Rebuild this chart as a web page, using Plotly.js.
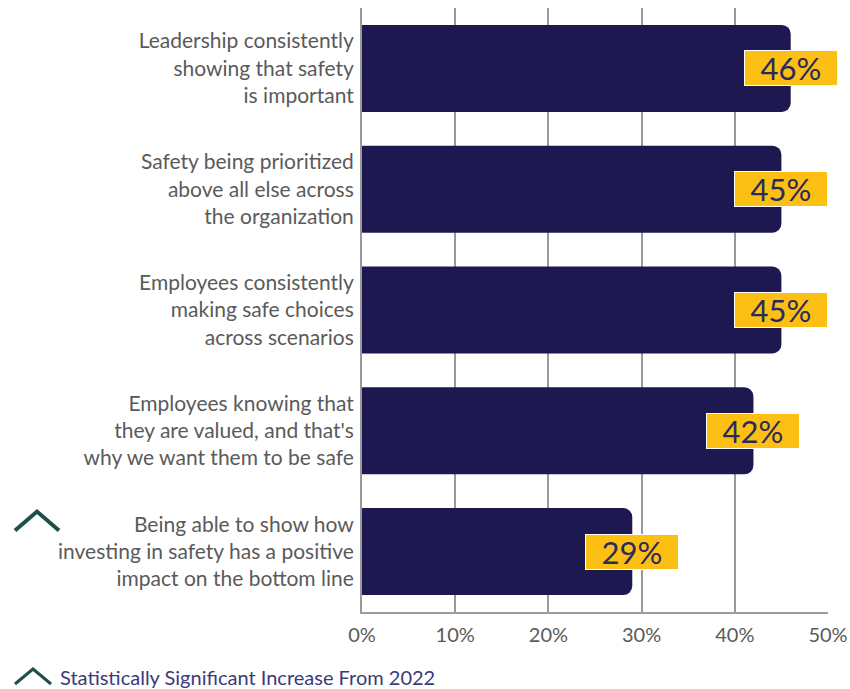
<!DOCTYPE html>
<html>
<head>
<meta charset="utf-8">
<script src="https://cdn.plot.ly/plotly-3.0.1.min.js"></script>
<style>html,body{margin:0;padding:0;background:#fff;}#chart{width:850px;height:689px;}</style>
</head>
<body>
<div id="chart"></div>
<script>
const categories = [
  "Leadership consistently<br>showing that safety<br>is important",
  "Safety being prioritized<br>above all else across<br>the organization",
  "Employees consistently<br>making safe choices<br>across scenarios",
  "Employees knowing that<br>they are valued, and that's<br>why we want them to be safe",
  "Being able to show how<br>investing in safety has a positive<br>impact on the bottom line"
];
const values = [46, 45, 45, 42, 29];
const valueLabels = ["46%", "45%", "45%", "42%", "29%"];
const significant = [false, false, false, false, true];
const tickVals = [0, 10, 20, 30, 40, 50];
const tickText = ["0%", "10%", "20%", "30%", "40%", "50%"];
const legendText = "Statistically Significant Increase From 2022";

const W = 850, H = 689;
const M = {l: 362, r: 22, t: 8, b: 77};
const pw = W - M.l - M.r, ph = H - M.t - M.b;
const px = x => (x - M.l) / pw;
const py = y => 1 - (y - M.t) / ph;

const trace = {
  type: 'bar',
  orientation: 'h',
  x: values,
  y: categories,
  width: 0.72,
  marker: {color: '#1e1850', cornerradius: 9},
  hoverinfo: 'skip'
};

const annotations = values.map((v, i) => ({
  x: v, y: categories[i], xref: 'x', yref: 'y',
  text: valueLabels[i], showarrow: false,
  font: {family: 'Lato, sans-serif', size: 31, color: '#2b2a5e'},
  bgcolor: '#fcbf14', bordercolor: '#ffffff', borderwidth: 1, borderpad: 1,
  width: 90, height: 32, xanchor: 'center', yanchor: 'middle'
}));

annotations.push({
  xref: 'paper', yref: 'paper', x: px(58), y: py(677),
  xanchor: 'left', yanchor: 'middle', showarrow: false,
  text: legendText,
  font: {family: 'Lato, sans-serif', size: 20, color: '#3a3a7c'}
});

function chevron(x0, x1, ytop, ybot, w) {
  const xm = (x0 + x1) / 2;
  return {
    type: 'path', xref: 'paper', yref: 'paper',
    path: `M ${px(x0)} ${py(ybot)} L ${px(xm)} ${py(ytop)} L ${px(x1)} ${py(ybot)}`,
    line: {color: '#1d4f4b', width: w}
  };
}
const shapes = [chevron(15, 51, 669, 684, 3)];
significant.forEach((s, i) => {
  if (s) {
    const yc = M.t + ph / categories.length * (i + 0.5);
    shapes.push(chevron(15, 59, yc - 40, yc - 21, 4));
  }
});

const layout = {
  width: W, height: H,
  margin: M,
  paper_bgcolor: '#ffffff', plot_bgcolor: '#ffffff',
  showlegend: false,
  bargap: 0.28,
  font: {family: 'Lato, sans-serif', color: '#555555'},
  xaxis: {
    range: [0, 50], tickvals: tickVals, ticktext: tickText,
    showgrid: true, gridcolor: '#9a9a9a', gridwidth: 2,
    showline: true, linecolor: '#9a9a9a', linewidth: 2,
    zeroline: false, ticks: '', ticklabelstandoff: 4,
    tickfont: {size: 20, color: '#5a5a5a'},
    fixedrange: true
  },
  yaxis: {
    autorange: 'reversed',
    showline: true, linecolor: '#9a9a9a', linewidth: 2,
    showgrid: false, ticks: '', ticklabelstandoff: 2,
    tickfont: {size: 21, color: '#5a5a5a'},
    fixedrange: true
  },
  annotations: annotations,
  shapes: shapes
};

Plotly.newPlot('chart', [trace], layout, {displayModeBar: false, staticPlot: true});
</script>
</body>
</html>
